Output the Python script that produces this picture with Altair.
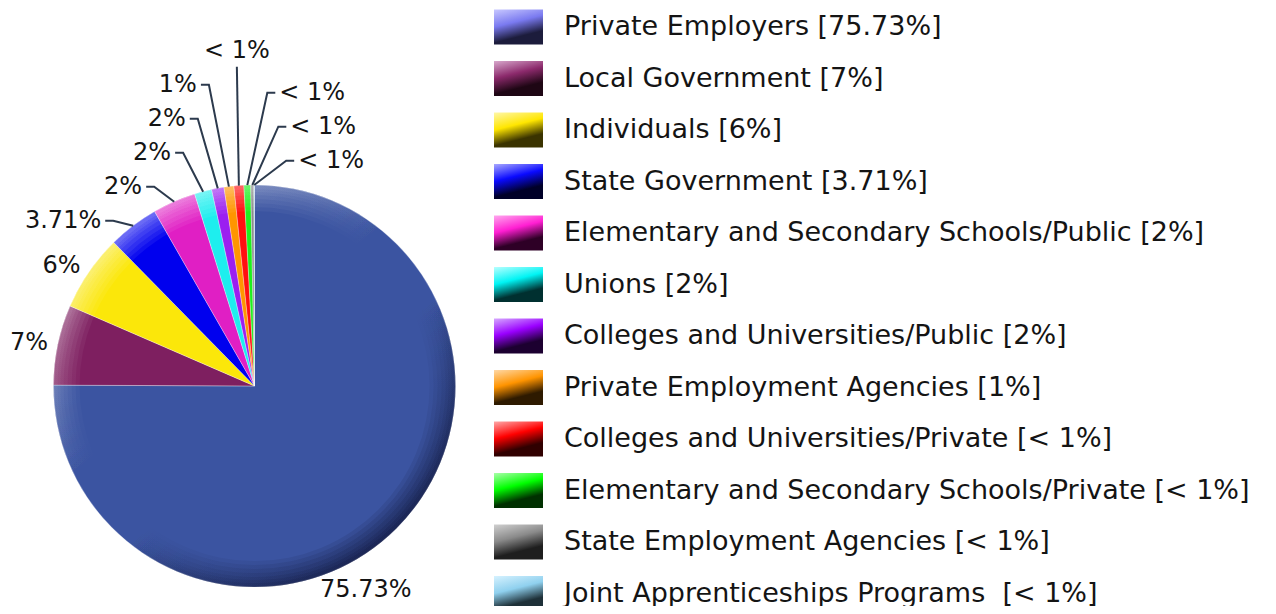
import math
import altair as alt
import numpy as np
import pandas as pd

# ---------------- data ----------------
categories = [
    "Private Employers",
    "Local Government",
    "Individuals",
    "State Government",
    "Elementary and Secondary Schools/Public",
    "Unions",
    "Colleges and Universities/Public",
    "Private Employment Agencies",
    "Colleges and Universities/Private",
    "Elementary and Secondary Schools/Private",
    "State Employment Agencies",
    "Joint Apprenticeships Programs\u00a0",
]
# slice sizes as they appear in the picture (percent of the pie)
values = [75.73, 6.5, 6.2, 4.1, 3.5, 1.4, 1.0, 0.8, 0.8, 0.55, 0.25, 0.05]
# printed labels
labels = ["75.73%", "7%", "6%", "3.71%", "2%", "2%", "2%", "1%",
          "< 1%", "< 1%", "< 1%", "< 1%"]

# ---------------- styles / layout ----------------
pie_colors = ["#3b54a1", "#7e1f60", "#fbe70a", "#0000ee", "#e01fc4", "#1eeeee",
              "#9b1ff0", "#ff9500", "#ff1010", "#1ef01e", "#8c8c8c", "#87ceeb"]
legend_shades = [
    ("#c8c8ff", "#7a7af0", "#1c1c3c"),
    ("#d8a8cc", "#8c2a6c", "#1e0614"),
    ("#fff7a8", "#ffe600", "#3a3300"),
    ("#a8a8ff", "#0a0aff", "#000028"),
    ("#ffa8ee", "#ff1ed2", "#2e0026"),
    ("#b8ffff", "#00f4f4", "#003030"),
    ("#d6a8ff", "#9a00ff", "#1c0030"),
    ("#ffd8a6", "#ff9400", "#2e1a00"),
    ("#ffa8a8", "#ff0000", "#300000"),
    ("#a8ffa8", "#00ff00", "#003000"),
    ("#d0d0d0", "#8a8a8a", "#1e1e1e"),
    ("#d6f2ff", "#8fd0ee", "#1e3038"),
]
FONT = "DejaVu Sans"
LABEL_FS = 24
LEGEND_FS = 27
TEXT_COLOR = "#141414"
LINE_COLOR = "#2c3a4d"

W, H = 1260, 598
CX, CY, R = 246.5, 378.0, 201.0
GAP = 34
LEG_X, LEG_TX, LEG_Y0, LEG_DY = 510.5, 556.0, 19.0, 51.5
# where along a large slice its label sits (fraction of the slice's sweep) and extra outward push
BIG_LABEL_FRAC = {0: 0.56}
BIG_LABEL_PUSH = {0: 21}

# ---------------- derived geometry ----------------
n = len(categories)
vals = np.array(values, dtype=float)
sweep = vals / vals.sum() * 2 * math.pi
ends = np.cumsum(sweep)
starts = ends - sweep
mids = (starts + ends) / 2
sx = CX + R * np.sin(mids)
sy = CY - R * np.cos(mids)

small = [i for i in range(n) if vals[i] < 5]
left_idx = [i for i in small if math.sin(mids[i]) < -0.07]
right_idx = [i for i in small if i not in left_idx]

lab_rows, line_rows = [], []
for i in range(n):
    if vals[i] >= 5:
        a = starts[i] + sweep[i] * BIG_LABEL_FRAC.get(i, 0.5)
        rr = R + 10 + BIG_LABEL_PUSH.get(i, 0)
        ax = CX + rr * math.sin(a)
        ay = CY - rr * math.cos(a)
        align = "left" if math.sin(a) > 0.6 else ("right" if math.sin(a) < -0.6 else "center")
        lab_rows.append(dict(lid=i, text=labels[i], lx=ax, ly=ay, align=align))

prev = None
for k, i in enumerate(left_idx):
    y = sy[i] - 5 if prev is None else min(sy[i] - 5, prev - GAP)
    prev = y
    if k == len(left_idx) - 1:
        # top-most label sits straight above its slice
        ex = sx[i] - 2
        pts = [(sx[i], sy[i]), (ex, y + 16)]
        lab_rows.append(dict(lid=i, text=labels[i], lx=ex, ly=y, align="center"))
    else:
        ex = sx[i] - 20
        pts = [(sx[i], sy[i]), (ex, y), (ex - 8, y)]
        lab_rows.append(dict(lid=i, text=labels[i], lx=ex - 12, ly=y, align="right"))
    for s, (px, py) in enumerate(pts):
        line_rows.append(dict(lid=i, seq=s, x=px, y=py))

ry = prev + 42
for k, i in enumerate(right_idx):
    y = ry + k * GAP
    ex = sx[i] + 20 + 6 * k
    pts = [(sx[i], sy[i]), (ex, y), (ex + 8, y)]
    lab_rows.append(dict(lid=i, text=labels[i], lx=ex + 12, ly=y, align="left"))
    for s, (px, py) in enumerate(pts):
        line_rows.append(dict(lid=i, seq=s, x=px, y=py))

df = pd.DataFrame({
    "idx": list(range(n)),
    "category": categories,
    "value": values,
    "legend": [f"{c} [{l}]" for c, l in zip(categories, labels)],
})
df["ly"] = LEG_Y0 + df["idx"] * LEG_DY
lab_df = pd.DataFrame(lab_rows)
line_df = pd.DataFrame(line_rows)

xs = alt.Scale(domain=[0, W], range=[0, W], nice=False, zero=False)
ys = alt.Scale(domain=[0, H], range=[0, H], nice=False, zero=False)


def grad(stops, x1=0.0, y1=0.0, x2=0.0, y2=1.0):
    return alt.LinearGradient(
        gradient="linear",
        stops=[alt.GradientStop(offset=o, color=c) for o, c in stops],
        x1=x1, y1=y1, x2=x2, y2=y2,
    )


# ---------------- pie ----------------
pie = alt.Chart(df).mark_arc(radius=R, stroke="white", strokeWidth=0.6, strokeOpacity=0.5).encode(
    theta=alt.Theta("value:Q", stack=True),
    color=alt.Color("category:N", scale=alt.Scale(domain=categories, range=pie_colors), legend=None),
    order=alt.Order("idx:Q"),
    x=alt.value(CX),
    y=alt.value(CY),
)

ring_grad = grad([(0, "rgba(255,255,255,0.6)"), (0.42, "rgba(255,255,255,0)"),
                  (0.58, "rgba(0,0,20,0)"), (1, "rgba(0,0,25,0.85)")], 0.1, 0.0, 0.9, 1.0)
ring_df = pd.DataFrame({"ring": [1]})
rings = [
    alt.Chart(ring_df).mark_arc(innerRadius=R - w, outerRadius=R, theta=0, theta2=2 * math.pi,
                                fill=ring_grad, opacity=0.17).encode(x=alt.value(CX), y=alt.value(CY))
    for w in (26, 22, 18, 14, 10, 7, 4)
]

lines = alt.Chart(line_df).mark_line(color=LINE_COLOR, strokeWidth=2).encode(
    x=alt.X("x:Q", scale=xs, axis=None),
    y=alt.Y("y:Q", scale=ys, axis=None),
    detail="lid:N",
    order="seq:Q",
)

label_layers = []
for al in ("left", "right", "center"):
    sub = lab_df[lab_df["align"] == al]
    if len(sub) == 0:
        continue
    label_layers.append(
        alt.Chart(sub).mark_text(align=al, baseline="middle", font=FONT, fontSize=LABEL_FS,
                                 color=TEXT_COLOR).encode(
            x=alt.X("lx:Q", scale=xs, axis=None),
            y=alt.Y("ly:Q", scale=ys, axis=None),
            text="text:N",
        )
    )

# ---------------- legend ----------------
swatches = []
for i, c in enumerate(categories):
    lt, bs, dk = legend_shades[i]
    swatches.append(
        alt.Chart(df).transform_filter(alt.datum.idx == i).mark_point(
            shape="M-1,-0.714H1V0.714H-1Z", size=49 * 49, filled=True, opacity=1,
            fill=grad([(0, lt), (0.45, bs), (0.85, dk), (1, dk)], 0.0, 0.0, 0.35, 1.0),
            strokeWidth=0,
        ).encode(x=alt.value(LEG_X), y=alt.Y("ly:Q", scale=ys, axis=None))
    )

legend_text = alt.Chart(df).mark_text(align="left", baseline="middle", font=FONT, fontSize=LEGEND_FS,
                                      color=TEXT_COLOR).encode(
    x=alt.value(LEG_TX), y=alt.Y("ly:Q", scale=ys, axis=None), text="legend:N"
)

chart = alt.layer(pie, *rings, lines, *label_layers, *swatches, legend_text).properties(
    width=W, height=H, autosize="none", padding=0
).configure_view(stroke=None)

chart.save("out.html", embed_options={"renderer": "svg", "actions": False})
